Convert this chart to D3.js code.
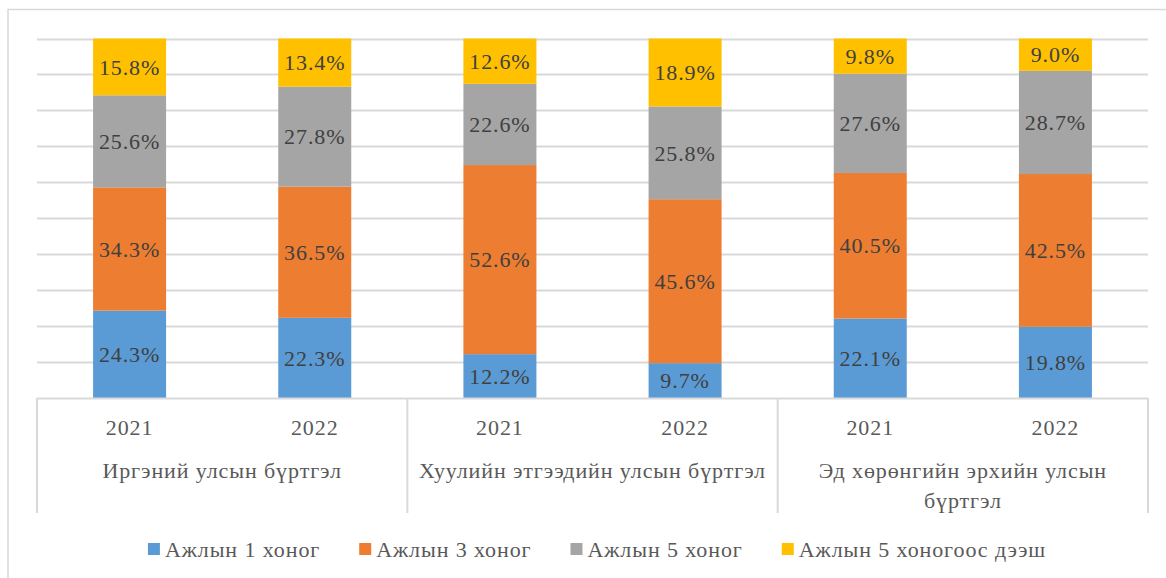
<!DOCTYPE html>
<html><head><meta charset="utf-8">
<script src="https://cdn.jsdelivr.net/npm/d3@7"></script>
<style>body{margin:0;background:#fff}svg{display:block}</style>
</head><body>
<svg id="c" width="1166" height="578" font-family="'Liberation Serif', 'Times New Roman', Tinos, 'DejaVu Serif', serif"></svg>
<script>
const groups = ["Иргэний улсын бүртгэл", "Хуулийн этгээдийн улсын бүртгэл", "Эд хөрөнгийн эрхийн улсын бүртгэл"];
const years = ["2021", "2022"];
const seriesNames = ["Ажлын 1 хоног", "Ажлын 3 хоног", "Ажлын 5 хоног", "Ажлын 5 хоногоос дээш"];
const colors = ["#5B9BD5", "#ED7D31", "#A5A5A5", "#FFC000"];
const s1 = [24.3, 22.3, 12.2, 9.7, 22.1, 19.8];
const s3 = [34.3, 36.5, 52.6, 45.6, 40.5, 42.5];
const s5 = [25.6, 27.8, 22.6, 25.8, 27.6, 28.7];
const s5p = [15.8, 13.4, 12.6, 18.9, 9.8, 9.0];
const yTicks = [0, 10, 20, 30, 40, 50, 60, 70, 80, 90, 100];

const FS = 22, LS = "0.9px";
const svg = d3.select("#c");
const L = 37, R = 1148, T = 38.5, B = 398;
const cats = [];
groups.forEach((g, gi) => years.forEach(y => cats.push(gi + "|" + y)));
const rows = cats.map((c, i) => ({c, v: [s1[i], s3[i], s5[i], s5p[i]]}));

const step = (R - L) / cats.length;
const p = 1 - 73 / step;
const x = d3.scaleBand().domain(cats).range([L, R]).paddingInner(p).paddingOuter(p / 2);
const y = d3.scaleLinear().domain([0, 100]).range([B, T]);

// chart border
svg.append("rect").attr("x", 8).attr("y", 9.5).attr("width", 1170).attr("height", 580)
  .attr("fill", "none").attr("stroke", "#D9D9D9").attr("stroke-width", 1.5);

// gridlines
svg.append("g").selectAll("line").data(yTicks.slice(1)).join("line")
  .attr("x1", L).attr("x2", R).attr("y1", d => Math.round(y(d)) + 0.5).attr("y2", d => Math.round(y(d)) + 0.5)
  .attr("stroke", "#D9D9D9").attr("stroke-width", 2);

// stacks
const stack = d3.stack().keys([0, 1, 2, 3]).value((d, k) => d.v[k]);
const st = stack(rows);
const gS = svg.append("g").selectAll("g").data(st).join("g").attr("fill", (d, i) => colors[i]);
gS.selectAll("rect").data(d => d).join("rect")
  .attr("x", d => x(d.data.c)).attr("width", x.bandwidth())
  .attr("y", d => y(d[1])).attr("height", d => y(d[0]) - y(d[1]));
gS.selectAll("text").data(d => d).join("text")
  .attr("x", d => x(d.data.c) + x.bandwidth() / 2)
  .attr("y", d => (y(d[0]) + y(d[1])) / 2)
  .attr("dy", "0.35em").attr("text-anchor", "middle")
  .attr("font-size", FS).attr("letter-spacing", LS).attr("fill", "#404040")
  .text(d => (d[1] - d[0]).toFixed(1) + "%");

// axis line
svg.append("line").attr("x1", L).attr("x2", R).attr("y1", B + 0.5).attr("y2", B + 0.5)
  .attr("stroke", "#D9D9D9").attr("stroke-width", 2);
// group separators
const gw = (R - L) / groups.length;
svg.append("g").selectAll("line").data(d3.range(groups.length + 1)).join("line")
  .attr("x1", i => L + i * gw).attr("x2", i => L + i * gw).attr("y1", B).attr("y2", 513)
  .attr("stroke", "#D9D9D9").attr("stroke-width", 2);

// year labels
svg.append("g").selectAll("text").data(cats).join("text")
  .attr("x", c => x(c) + x.bandwidth() / 2).attr("y", 427).attr("dy", "0.35em")
  .attr("text-anchor", "middle").attr("font-size", FS).attr("letter-spacing", LS).attr("fill", "#595959")
  .text(c => c.split("|")[1]);

// group labels with wrapping
groups.forEach((g, gi) => {
  const cx = L + gi * gw + gw / 2;
  const t = svg.append("text").attr("x", cx).attr("y", 470).attr("dy", "0.35em")
    .attr("text-anchor", "middle").attr("font-size", FS).attr("letter-spacing", LS).attr("fill", "#595959").text(g);
  if (t.node().getComputedTextLength() > gw - 8) {
    const words = g.split(" ");
    const last = words.pop();
    t.text(words.join(" "));
    svg.append("text").attr("x", cx).attr("y", 500).attr("dy", "0.35em")
      .attr("text-anchor", "middle").attr("font-size", FS).attr("letter-spacing", LS).attr("fill", "#595959").text(last);
  }
});

// legend
const lg = svg.append("g");
let cx = 0;
seriesNames.forEach((n, i) => {
  const g = lg.append("g");
  g.append("rect").attr("x", 0).attr("y", -6).attr("width", 12).attr("height", 12).attr("fill", colors[i]);
  const t = g.append("text").attr("x", 17).attr("y", 0).attr("dy", "0.35em")
    .attr("font-size", FS).attr("letter-spacing", LS).attr("fill", "#595959").text(n);
  const w = 17 + t.node().getComputedTextLength();
  g.attr("transform", `translate(${cx},549)`);
  cx += w + 39;
});
const totalW = cx - 39;
lg.attr("transform", `translate(${597 - totalW / 2},0)`);
</script>
</body></html>
